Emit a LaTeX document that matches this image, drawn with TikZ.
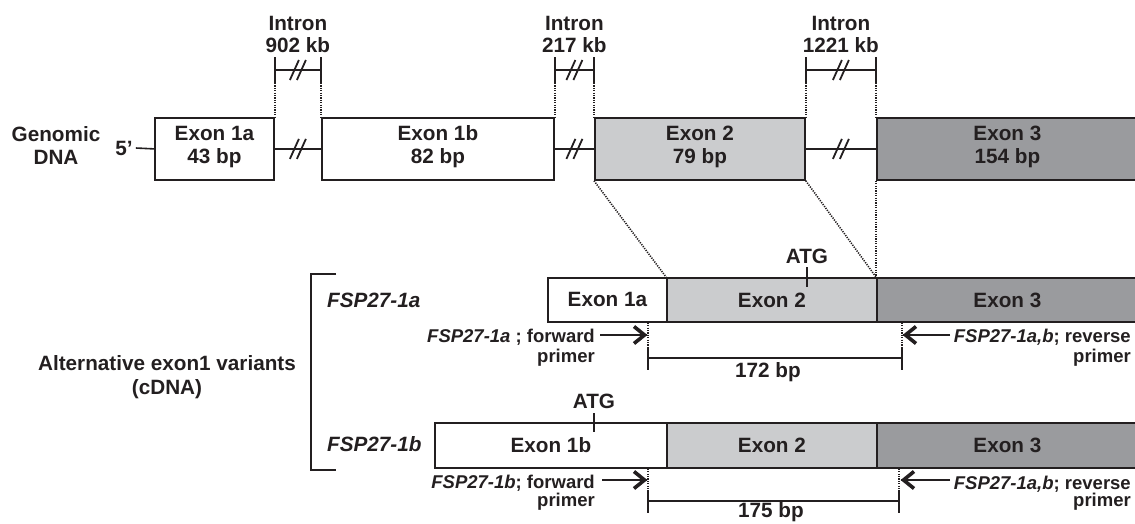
\documentclass[tikz,border=0pt]{standalone}
\usepackage{fontspec}
\setmainfont{Liberation Sans}
\usetikzlibrary{calc}
\definecolor{ink}{HTML}{231F20}
\definecolor{exlight}{HTML}{CBCCCE}
\definecolor{exdark}{HTML}{9A9B9E}
\begin{document}
\begin{tikzpicture}[x=1pt,y=-1pt,
  font=\fontsize{20.7}{23}\selectfont\bfseries,
  box/.style={draw=ink, line width=1.8pt, inner sep=0pt, anchor=north west, align=center, text=ink},
  gbox/.style={box, minimum height=62pt, text depth=8pt},
  cbox/.style={box},
  txt/.style={inner sep=0pt, text=ink},
  ptxt/.style={txt, anchor=base east, font=\fontsize{18.5}{20}\selectfont\bfseries},
  ln/.style={draw=ink, line width=1.6pt},
  dotl/.style={draw=ink, line width=1.6pt, dash pattern=on 1.2pt off 1.2pt},
  shaft/.style={draw=ink, line width=1.8pt},
  chevR/.pic={\draw[ink, line width=3.6pt, miter limit=10] (-13,-8.5) -- (-2.5,0) -- (-13,8.5);},
  chevL/.pic={\draw[ink, line width=3.6pt, miter limit=10] (13,-8.5) -- (2.5,0) -- (13,8.5);},
  brk/.pic={\draw[ink,line width=1.8pt] (-8,10)--(1,-10) (-1,10)--(8,-10);}
]
\useasboundingbox (0,0) rectangle (1135,523);

% ---------- genomic DNA ----------
\node[txt, align=center] (gdna) at (56,145) {Genomic\\DNA};
\node[txt] (five) at (124,148) {5’};

\node[gbox, minimum width=119pt] (e1a) at (154,117) {Exon 1a\\43 bp};
\node[gbox, minimum width=232pt] (e1b) at (321,117) {Exon 1b\\82 bp};
\node[gbox, fill=exlight, minimum width=210pt] (e2) at (594,117) {Exon 2\\79 bp};
\node[gbox, fill=exdark, minimum width=261pt] (e3) at (876,117) {Exon 3\\154 bp};

\draw[ln] (five.east) ++(3,0) -- (e1a.west);

\coordinate (yt) at (0,57);
\coordinate (ym) at (0,70);
\coordinate (yb) at (0,83);
\coordinate (yl) at (0,53);

\foreach \a/\b/\t in {e1a/e1b/902 kb, e1b/e2/217 kb, e2/e3/1221 kb}{
  \draw[ln] (\a.east) -- (\b.west);
  \path ($(\a.east)!0.5!(\b.west)$) pic{brk};
  \draw[ln] (\a.north east |- yt) -- (\a.north east |- yb)
            (\b.north west |- yt) -- (\b.north west |- yb)
            (\a.north east |- ym) -- (\b.north west |- ym);
  \path ($(\a.north east |- ym)!0.5!(\b.north west |- ym)$) pic{brk};
  \draw[dotl] (\a.north east |- yb) -- (\a.north east);
  \draw[dotl] (\b.north west |- yb) -- (\b.north west);
  \node[txt, align=center, anchor=south, font=\fontsize{20.7}{22}\selectfont\bfseries]
     at ($(\a.north east |- yl)!0.5!(\b.north west |- yl)$) {Intron\\\t};
}

% ---------- cDNA variants ----------
\node[txt, align=center, font=\fontsize{20.7}{24.5}\selectfont\bfseries] (alt) at (167,377) {Alternative exon1 variants\\(cDNA)};
\coordinate (brT) at (336,274);
\coordinate (brB) at (336,470);
\draw[ln] (brT) -- (brT -| 311,0) -- (brB -| 311,0) -- (brB);

% variant 1a
\node[cbox, minimum width=119pt, minimum height=44pt] (c1a) at (547,277) {Exon 1a};
\node[cbox, fill=exlight, minimum width=210pt, minimum height=44pt] (c1a2) at (666,277) {Exon 2};
\node[cbox, fill=exdark, minimum width=261pt, minimum height=44pt] (c1a3) at (876,277) {Exon 3};
\node[txt, anchor=base west] (v1a) at (327,307.5) {\itshape FSP27-1a};

\draw[dotl] (e2.south west) -- (c1a2.north west);
\draw[dotl] (e2.south east) -- (c1a3.north west);
\draw[dotl] (e3.south west) -- (c1a3.north west);

\node[txt, anchor=base] (atg1) at (807,263) {ATG};
\draw[ln] (atg1.south) ++(0,4) -- ++(0,20);

\node[ptxt] (f1a) at (595,342) {{\itshape FSP27-1a} ; forward};
\node[ptxt] (f1ap) at (595,362) {primer};
\node[ptxt] (r1a) at (1131,342) {{\itshape FSP27-1a,b}; reverse};
\node[ptxt] (r1ap) at (1131,362) {primer};

\coordinate (fs1) at (600,335);
\coordinate (fe1) at (647,335);
\coordinate (rs1) at (950,335);
\coordinate (re1) at (903,335);
\draw[shaft] (fs1) -- (fe1);
\path (fe1) pic{chevR};
\draw[shaft] (rs1) -- (re1);
\path (re1) pic{chevL};

\coordinate (L1) at (648,358);
\coordinate (R1) at (902,358);
\draw[dotl] (L1 |- c1a.south) -- ++(0,24);
\draw[dotl] (R1 |- c1a.south) -- ++(0,24);
\draw[ln] (L1) -- (R1);
\draw[ln] (L1) ++(0,-11) -- ++(0,23);
\draw[ln] (R1) ++(0,-11) -- ++(0,23);
\node[txt, anchor=base] (bp1) at (768,377) {172 bp};

% variant 1b
\node[cbox, minimum width=232pt, minimum height=45pt] (c1b) at (434,422) {Exon 1b};
\node[cbox, fill=exlight, minimum width=210pt, minimum height=45pt] (c1b2) at (666,422) {Exon 2};
\node[cbox, fill=exdark, minimum width=261pt, minimum height=45pt] (c1b3) at (876,422) {Exon 3};
\node[txt, anchor=base west] (v1b) at (327,451) {\itshape FSP27-1b};

\node[txt, anchor=base] (atg2) at (594,408) {ATG};
\draw[ln] (atg2.south) ++(0,5) -- ++(0,19);

\node[ptxt] (f1b) at (595,488) {{\itshape FSP27-1b}; forward};
\node[ptxt] (f1bp) at (595,506) {primer};
\node[ptxt] (r1b) at (1131,489) {{\itshape FSP27-1a,b}; reverse};
\node[ptxt] (r1bp) at (1131,506) {primer};

\coordinate (fs2) at (602,480);
\coordinate (fe2) at (647,480);
\coordinate (rs2) at (950,480);
\coordinate (re2) at (901,480);
\draw[shaft] (fs2) -- (fe2);
\path (fe2) pic{chevR};
\draw[shaft] (rs2) -- (re2);
\path (re2) pic{chevL};

\coordinate (L2) at (648,501);
\coordinate (R2) at (899,501);
\draw[dotl] (L2 |- c1b.south) -- ++(0,22);
\draw[dotl] (R2 |- c1b.south) -- ++(0,22);
\draw[ln] (L2) -- (R2);
\draw[ln] (L2) ++(0,-11) -- ++(0,23);
\draw[ln] (R2) ++(0,-11) -- ++(0,23);
\node[txt, anchor=base] (bp2) at (771,517.5) {175 bp};
\end{tikzpicture}
\end{document}
